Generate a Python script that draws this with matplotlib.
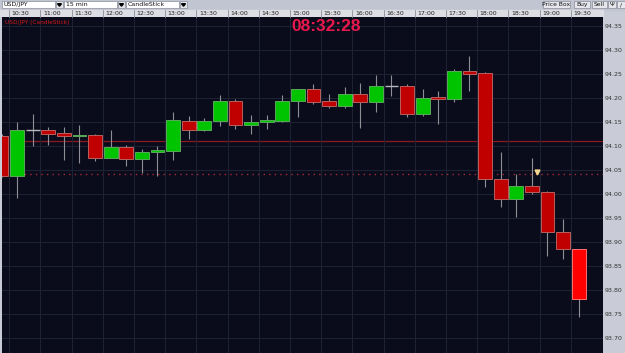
import matplotlib.pyplot as plt
import matplotlib.transforms as mtransforms
from matplotlib.patches import Rectangle, Polygon
plt.switch_backend("Agg")

# 15 min USD/JPY candles (start time of each bar)
times = ["10:15", "10:30", "10:45", "11:00", "11:15", "11:30", "11:45", "12:00",
         "12:15", "12:30", "12:45", "13:00", "13:15", "13:30", "13:45", "14:00",
         "14:15", "14:30", "14:45", "15:00", "15:15", "15:30", "15:45", "16:00",
         "16:15", "16:30", "16:45", "17:00", "17:15", "17:30", "17:45", "18:00",
         "18:15", "18:30", "18:45", "19:00", "19:15", "19:30"]
opens = [94.121, 94.038, 94.133, 94.133, 94.127, 94.120, 94.123, 94.076,
         94.098, 94.072, 94.087, 94.090, 94.153, 94.133, 94.152, 94.194,
         94.144, 94.150, 94.153, 94.194, 94.218, 94.194, 94.183, 94.208,
         94.192, 94.225, 94.225, 94.167, 94.203, 94.198, 94.257, 94.253,
         94.031, 93.989, 94.017, 94.005, 93.920, 93.885]
highs = [94.125, 94.150, 94.167, 94.139, 94.139, 94.144, 94.125, 94.133,
         94.102, 94.093, 94.100, 94.171, 94.163, 94.158, 94.206, 94.197,
         94.165, 94.165, 94.206, 94.219, 94.229, 94.208, 94.222, 94.232,
         94.248, 94.248, 94.229, 94.218, 94.215, 94.260, 94.288, 94.254,
         94.087, 94.042, 94.074, 94.006, 93.948, 93.886]
lows = [94.036, 93.992, 94.100, 94.102, 94.071, 94.064, 94.069, 94.074,
        94.059, 94.044, 94.038, 94.071, 94.115, 94.131, 94.142, 94.135,
        94.125, 94.135, 94.149, 94.160, 94.188, 94.180, 94.179, 94.137,
        94.171, 94.205, 94.160, 94.163, 94.146, 94.191, 94.215, 94.015,
        93.972, 93.953, 93.999, 93.871, 93.865, 93.744]
closes = [94.038, 94.133, 94.133, 94.126, 94.120, 94.123, 94.076, 94.098,
          94.072, 94.088, 94.091, 94.154, 94.133, 94.152, 94.194, 94.143,
          94.150, 94.154, 94.194, 94.218, 94.192, 94.183, 94.208, 94.192,
          94.225, 94.225, 94.167, 94.201, 94.197, 94.256, 94.251, 94.031,
          93.989, 94.016, 94.005, 93.920, 93.885, 93.782]

axis_times = ["10:30", "11:00", "11:30", "12:00", "12:30", "13:00", "13:30",
              "14:00", "14:30", "15:00", "15:30", "16:00", "16:30", "17:00",
              "17:30", "18:00", "18:30", "19:00", "19:30"]
price_ticks = [93.70, 93.75, 93.80, 93.85, 93.90, 93.95, 94.00, 94.05,
               94.10, 94.15, 94.20, 94.25, 94.30, 94.35]
line_price = 94.110      # solid red line
bid_price = 94.041       # dotted red line
marker_time = 18.95
marker_price = 94.046
clock = "08:32:28"


def hours(s):
    h, m = s.split(":")
    return int(h) + int(m) / 60.0


W, H = 625, 353
narrow = ["Liberation Sans Narrow", "DejaVu Sans"]
bg = "#0a0c1b"
grid_c = "#1e2434"
panel = "#c9ccd6"

fig = plt.figure(figsize=(6.25, 3.53), dpi=100, facecolor=panel)

# ---- header (control bar + time row) ----
hd = fig.add_axes([0, 336 / H, 1, 17 / H])
hd.set_xlim(0, W)
hd.set_ylim(17, 0)
hd.axis("off")
hd.add_patch(Rectangle((0, 0), W, 9.5, color="#c1c5d1"))
hd.add_patch(Rectangle((0, 9.5), 603, 7.5, color="#dddee4"))
hd.plot([0, 603], [16.8, 16.8], color="#9a9ca6", lw=0.6)

for x0, label in [(2, "USD/JPY"), (64, "15 min"), (126, "CandleStick")]:
    hd.add_patch(Rectangle((x0, 1.2), 53, 7, facecolor="white", edgecolor="#8a8e9a", lw=0.5))
    hd.add_patch(Rectangle((x0 + 54, 1.2), 7, 7, facecolor="#e4e5ea", edgecolor="#8a8e9a", lw=0.5))
    hd.add_patch(Polygon([(x0 + 55.5, 3.7), (x0 + 59.5, 3.7), (x0 + 57.5, 6.2)], color="black"))
    hd.text(x0 + 2, 4.9, label, fontsize=4.5, family=narrow, va="center", color="#111")

for x0, w, label in [(543, 27, "Price Box"), (574, 16, "Buy"), (592, 15, "Sell"), (608, 8, "\u03a8"), (617, 8, "/")]:
    hd.add_patch(Rectangle((x0, 1.2), w, 7, facecolor="#e6e7ec", edgecolor="#8a8e9a", lw=0.5))
    hd.text(x0 + w / 2, 4.9, label, fontsize=4.3, family=narrow, ha="center", va="center",
            color="#111")

# ---- main chart ----
ax = fig.add_axes([2 / W, 0, 601 / W, 336 / H])
ax.set_facecolor(bg)
ax.set_xlim(10.383, 20.015)
ax.set_ylim(93.66875, 94.36875)
for s in ax.spines.values():
    s.set_visible(False)
ax.set_xticks([hours(t) for t in axis_times])
ax.set_yticks(price_ticks)
ax.tick_params(length=0, labelbottom=False, labelleft=False)
ax.grid(True, color=grid_c, lw=0.7)

centers = [hours(t) + 0.125 for t in times]
ax.vlines(centers, lows, highs, color="#8e8e96", lw=0.8, zorder=2)
for i in range(len(times)):
    o, c = opens[i], closes[i]
    if abs(c - o) < 0.0005:
        ax.hlines(o, centers[i] - 0.11, centers[i] + 0.11, color="#b8b8bc", lw=1.0, zorder=3)
        continue
    if i == len(times) - 1:
        fc, ec = "#ff0000", "#ff7070"
    elif c > o:
        fc, ec = "#00c400", "#5aa85a"
    else:
        fc, ec = "#c00000", "#b86060"
    ax.bar(centers[i], c - o, bottom=o, width=0.22, color=fc, edgecolor=ec, lw=0.7, zorder=3)

ax.axhline(line_price, color="#8a1a22", lw=0.9, zorder=1.5)
ax.axhline(bid_price, color="#a82838", lw=1.0, ls=(0, (1, 3)), zorder=1.5)
ax.plot([marker_time], [marker_price], marker="v", color="#f2d890", ms=3.5, zorder=4)

ax.text(0.005, 0.992, "USD/JPY (CandleStick)", transform=ax.transAxes, fontsize=4.2,
        family=narrow, color="#d01818", va="top")
ax.text(0.539, 0.973, clock, transform=ax.transAxes, fontsize=12.5, weight="bold",
        family=["Liberation Sans", "DejaVu Sans"], color="#e8174c", ha="center", va="center")

# time labels in header row
top = mtransforms.blended_transform_factory(ax.transData, ax.transAxes)
for t in axis_times:
    x = hours(t)
    ax.plot([x, x], [1.0, 1.0 + 7.5 / 336], transform=top, clip_on=False, color="#8c8e98", lw=0.6)
    ax.text(x + 0.04, 1.0 + 3.8 / 336, t, transform=top, clip_on=False, fontsize=4.5,
            family=narrow, color="#222", va="center")

# ---- right price panel ----
pr = fig.add_axes([603 / W, 0, 22 / W, 336 / H])
pr.set_facecolor(panel)
pr.set_ylim(ax.get_ylim())
pr.set_xticks([])
pr.set_yticks(price_ticks)
pr.set_yticklabels(["%.2f" % p for p in price_ticks], family=narrow)
pr.tick_params(axis="y", length=0, pad=-14, labelsize=4.5, labelcolor="#333")
for s in pr.spines.values():
    s.set_visible(False)

fig.savefig("out.png", dpi=100, facecolor=fig.get_facecolor())
